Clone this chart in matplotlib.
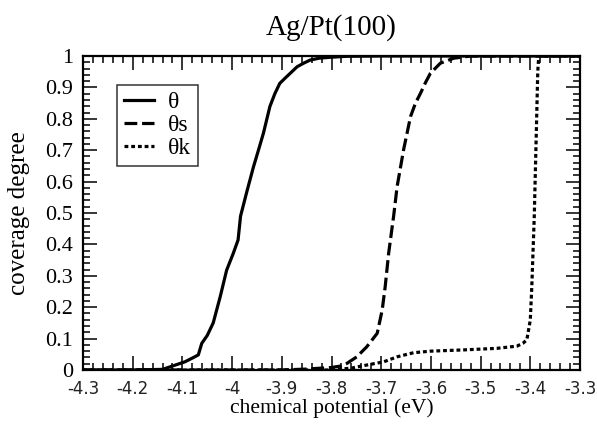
import matplotlib
matplotlib.use("Agg")
import matplotlib.pyplot as plt
from matplotlib.ticker import MultipleLocator

# ---- data ----
theta_x = [-4.30, -4.20, -4.14, -4.125, -4.11, -4.095, -4.08, -4.068, -4.061, -4.05,
           -4.038, -4.024, -4.011, -3.998, -3.988, -3.983, -3.97, -3.957, -3.947,
           -3.937, -3.924, -3.914, -3.904, -3.893, -3.883, -3.869, -3.855, -3.843,
           -3.825, -3.802, -3.77, -3.70, -3.30]
theta_y = [0, 0, 0.002, 0.01, 0.018, 0.026, 0.038, 0.048, 0.085, 0.11,
           0.15, 0.233, 0.318, 0.37, 0.414, 0.49, 0.57, 0.647, 0.70,
           0.754, 0.839, 0.88, 0.913, 0.93, 0.945, 0.966, 0.978, 0.987,
           0.993, 0.996, 0.999, 1.0, 1.0]

theta_s_x = [-4.30, -3.90, -3.85, -3.80, -3.78, -3.769, -3.749, -3.729, -3.708,
             -3.698, -3.692, -3.685, -3.675, -3.668, -3.655, -3.641, -3.631,
             -3.621, -3.611, -3.601, -3.581, -3.554, -3.52, -3.30]
theta_s_y = [0, 0, 0.003, 0.008, 0.013, 0.021, 0.042, 0.074, 0.117,
             0.191, 0.265, 0.372, 0.49, 0.584, 0.701, 0.807, 0.85,
             0.881, 0.915, 0.945, 0.977, 0.993, 1.0, 1.0]

theta_k_x = [-4.30, -3.80, -3.76, -3.735, -3.715, -3.695, -3.668, -3.635, -3.601,
             -3.534, -3.467, -3.427, -3.415, -3.407, -3.400, -3.397, -3.392,
             -3.388, -3.385, -3.383, -3.30]
theta_k_y = [0, 0, 0.006, 0.014, 0.02, 0.026, 0.042, 0.055, 0.06,
             0.064, 0.069, 0.076, 0.085, 0.096, 0.159, 0.265, 0.49,
             0.75, 0.95, 1.0, 1.0]

x_ticks = [-4.3, -4.2, -4.1, -4.0, -3.9, -3.8, -3.7, -3.6, -3.5, -3.4, -3.3]
x_tick_labels = ["-4.3", "-4.2", "-4.1", "-4", "-3.9", "-3.8", "-3.7", "-3.6",
                 "-3.5", "-3.4", "-3.3"]
y_ticks = [0, 0.1, 0.2, 0.3, 0.4, 0.5, 0.6, 0.7, 0.8, 0.9, 1.0]
y_tick_labels = ["0", "0.1", "0.2", "0.3", "0.4", "0.5", "0.6", "0.7", "0.8", "0.9", "1"]

serif = "Liberation Serif"
sans = "DejaVu Sans"

fig = plt.figure(figsize=(5.97, 4.26), dpi=100)
ax = fig.add_axes([83 / 597, 56 / 426, 497 / 597, 314 / 426])

lw = 2.3
ax.plot(theta_x, theta_y, color="black", lw=lw, label="θ")
ax.plot(theta_s_x, theta_s_y, color="black", lw=lw, linestyle=(0, (4, 1.5)), label="θs")
ax.plot(theta_k_x, theta_k_y, color="black", lw=lw, linestyle=(0, (1.2, 0.9)), label="θk")

ax.set_xlim(-4.3, -3.3)
ax.set_ylim(0, 1)
ax.set_xticks(x_ticks)
ax.set_xticklabels(x_tick_labels, fontfamily=sans, fontsize=12, color="#222222")
ax.set_yticks(y_ticks)
ax.set_yticklabels(y_tick_labels, fontfamily=serif, fontsize=16)
ax.xaxis.set_minor_locator(MultipleLocator(0.02))
ax.yaxis.set_minor_locator(MultipleLocator(0.02))
ax.tick_params(which="both", direction="in", top=True, right=True, width=1.1)
ax.tick_params(which="major", length=10)
ax.tick_params(which="minor", length=5)
ax.tick_params(axis="y", pad=7)
ax.tick_params(axis="x", pad=7)
for s in ax.spines.values():
    s.set_linewidth(1.6)

ax.set_title("Ag/Pt(100)", fontfamily=serif, fontsize=21, pad=15)
ax.set_xlabel("chemical potential (eV)", fontfamily=serif, fontsize=15.5, labelpad=0.5)
ax.set_ylabel("coverage degree", fontfamily=serif, fontsize=18, labelpad=11)

leg = ax.legend(loc="upper left", bbox_to_anchor=(0.069, 0.908), prop={"family": serif, "size": 17},
                frameon=True, fancybox=False, handlelength=1.25, handletextpad=0.6,
                borderpad=0.3, labelspacing=0.05, borderaxespad=0)
leg.get_frame().set_edgecolor("black")
leg.get_frame().set_linewidth(1.1)

fig.savefig("out.png", dpi=100)
